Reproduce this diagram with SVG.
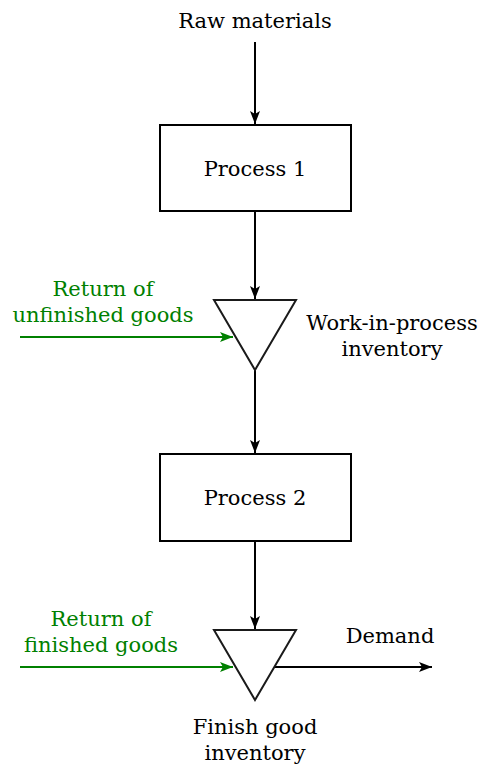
<svg xmlns="http://www.w3.org/2000/svg" width="480" height="765" viewBox="0 0 480 765">
<style>
text{font-family:"DejaVu Serif",serif;font-size:21px;text-anchor:middle;fill:#000}
.g{fill:#008000}
.box{fill:#fff;stroke:#000;stroke-width:2}
.tri{fill:#fff;stroke:#1a1a1a;stroke-width:2}
.c{stroke:#000;stroke-width:2;fill:none}
.cg{stroke:#008000;stroke-width:2;fill:none}
</style>
<defs>
<marker id="ab" markerUnits="userSpaceOnUse" markerWidth="14" markerHeight="10" refX="13" refY="5" orient="auto"><path d="M0,0 L13,5 L0,10 L3,5 Z" fill="#000"/></marker>
<marker id="ag" markerUnits="userSpaceOnUse" markerWidth="14" markerHeight="10" refX="13" refY="5" orient="auto"><path d="M0,0 L13,5 L0,10 L3,5 Z" fill="#008000"/></marker>
</defs>
<g id="connectors">
<line class="c" x1="255" y1="42" x2="255" y2="124" marker-end="url(#ab)"/>
<line class="c" x1="255" y1="212" x2="255" y2="299" marker-end="url(#ab)"/>
<line class="c" x1="255" y1="370" x2="255" y2="453" marker-end="url(#ab)"/>
<line class="c" x1="255" y1="541" x2="255" y2="629" marker-end="url(#ab)"/>
<line class="cg" x1="20" y1="337" x2="233" y2="337" marker-end="url(#ag)"/>
<line class="cg" x1="20" y1="667" x2="233" y2="667" marker-end="url(#ag)"/>
<line class="c" x1="274" y1="667" x2="432" y2="667" marker-end="url(#ab)"/>
</g>
<g id="raw"><text x="255" y="28">Raw materials</text></g>
<g id="p1"><rect class="box" x="160" y="125" width="191" height="86"/><text x="255" y="176">Process 1</text></g>
<g id="wip"><polygon class="tri" points="214,300 296,300 255,370"/></g>
<g id="wipLabel"><text x="392" y="330">Work-in-process</text><text x="392" y="356">inventory</text></g>
<g id="ret1"><text class="g" x="103" y="296">Return of</text><text class="g" x="103" y="322">unfinished goods</text></g>
<g id="p2"><rect class="box" x="160" y="454" width="191" height="87"/><text x="255" y="505">Process 2</text></g>
<g id="fgi"><polygon class="tri" points="214,630 296,630 255,700"/></g>
<g id="fgiLabel"><text x="255" y="734">Finish good</text><text x="255" y="760">inventory</text></g>
<g id="ret2"><text class="g" x="101" y="626">Return of</text><text class="g" x="101" y="652">finished goods</text></g>
<g id="demand"><text x="390" y="643">Demand</text></g>
</svg>
